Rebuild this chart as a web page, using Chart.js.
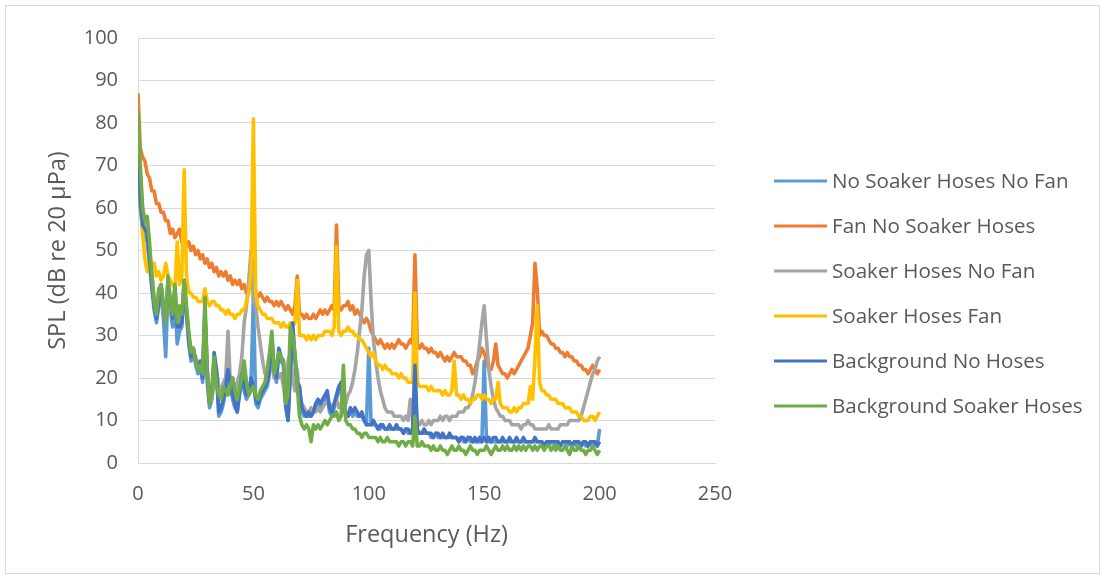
<!DOCTYPE html>
<html lang="en">
<head>
  <meta charset="UTF-8">
  <title>SPL spectra</title>
  <script src="https://cdn.jsdelivr.net/npm/chart.js"></script>
  <style>
    body { margin: 0; background: #fff; }
    .frame { position: absolute; left: 5px; top: 5px; width: 1093px; height: 567px; border: 1px solid #d9d9d9; }
    canvas { display: block; }
  </style>
</head>
<body>
  <div class="frame"><canvas id="spl" width="1093" height="567"></canvas></div>

  <script>
    // 1 Hz bins, 0..200 Hz
    const freqHz = Array.from({ length: 201 }, (_, i) => i);

    const xTicks = [0, 50, 100, 150, 200, 250];
    const yTicks = [0, 10, 20, 30, 40, 50, 60, 70, 80, 90, 100];

    const seriesNames = [
      'No Soaker Hoses No Fan',
      'Fan No Soaker Hoses',
      'Soaker Hoses No Fan',
      'Soaker Hoses Fan',
      'Background No Hoses',
      'Background Soaker Hoses'
    ];

    const noHosesNoFan = [
      75, 60, 55, 54, 52, 47, 41, 36, 33, 37,
      40, 34, 25, 41, 36, 32, 38, 28, 31, 32,
      41, 35, 28, 24, 26, 23, 21, 23, 19, 34,
      19, 13, 15, 24, 21, 11, 12, 14, 17, 21,
      18, 15, 13, 12, 16, 20, 17, 15, 16, 19,
      39, 14, 13, 15, 16, 17, 18, 21, 28, 21,
      19, 26, 24, 23, 13, 10, 21, 31, 24, 18,
      17, 12, 11, 11, 11, 11, 12, 13, 14, 13,
      14, 15, 16, 12, 11, 13, 15, 17, 18, 13,
      11, 11, 12, 11, 12, 11, 11, 11, 10, 9,
      27, 9, 9, 9, 8, 8, 9, 8, 8, 8,
      8, 8, 8, 8, 8, 7, 8, 7, 7, 8,
      21, 7, 7, 7, 7, 7, 7, 6, 6, 7,
      6, 6, 6, 6, 6, 6, 6, 6, 6, 5,
      6, 5, 5, 6, 5, 5, 5, 5, 5, 5,
      24, 5, 5, 5, 5, 5, 5, 5, 5, 5,
      5, 5, 5, 5, 5, 5, 5, 5, 5, 5,
      5, 5, 5, 5, 5, 5, 4, 5, 4, 5,
      5, 4, 5, 4, 5, 5, 4, 5, 4, 5,
      4, 5, 4, 5, 4, 4, 5, 4, 5, 4,
      8
    ];

    const fanNoHoses = [
      87, 74, 72, 71, 68, 67, 64, 64, 61, 61,
      59, 59, 57, 57, 54, 55, 53, 54, 55, 52,
      53, 51, 52, 50, 51, 49, 50, 48, 49, 47,
      48, 46, 47, 45, 46, 44, 45, 44, 45, 43,
      44, 42, 43, 42, 43, 41, 42, 40, 41, 42,
      48, 40, 39, 40, 39, 38, 39, 38, 38, 37,
      38, 37, 38, 37, 36, 37, 36, 35, 37, 44,
      35, 35, 34, 35, 34, 34, 35, 34, 35, 36,
      35, 36, 35, 36, 37, 36, 56, 37, 36, 37,
      37, 38, 36, 37, 35, 36, 35, 34, 33, 34,
      33, 31, 30, 29, 28, 29, 28, 27, 28, 27,
      28, 27, 28, 29, 28, 28, 27, 28, 29, 28,
      49, 28, 27, 28, 27, 27, 26, 27, 26, 26,
      25, 26, 25, 24, 25, 24, 25, 26, 25, 25,
      25, 24, 24, 23, 23, 21, 22, 24, 25, 27,
      26, 24, 22, 22, 24, 28, 23, 22, 21, 21,
      20, 21, 22, 21, 22, 23, 24, 25, 26, 27,
      30, 33, 47, 41, 30, 31, 30, 30, 29, 28,
      28, 27, 27, 26, 26, 25, 26, 25, 25, 24,
      24, 23, 23, 22, 22, 21, 22, 23, 22, 21,
      22
    ];

    const hosesNoFan = [
      80, 68, 60, 56, 55, 50, 45, 39, 37, 39,
      40, 36, 33, 40, 36, 34, 38, 33, 32, 35,
      40, 35, 30, 27, 26, 25, 23, 23, 22, 35,
      22, 16, 15, 19, 22, 18, 17, 19, 20, 31,
      19, 20, 17, 19, 21, 25, 33, 37, 43, 50,
      38, 37, 32, 28, 24, 21, 20, 22, 24, 20,
      22, 20, 21, 18, 14, 24, 26, 20, 17, 22,
      15, 14, 13, 12, 12, 13, 12, 12, 13, 12,
      13, 14, 14, 14, 13, 14, 15, 13, 14, 14,
      14, 16, 17, 19, 22, 26, 31, 36, 44, 49,
      50, 38, 29, 24, 20, 17, 15, 13, 12, 12,
      12, 11, 11, 11, 11, 10, 11, 10, 15, 10,
      10, 10, 9, 10, 9, 9, 10, 9, 10, 10,
      10, 11, 10, 11, 11, 10, 11, 11, 11, 12,
      12, 12, 13, 13, 14, 16, 19, 23, 28, 33,
      37, 29, 22, 18, 15, 13, 12, 11, 11, 10,
      10, 10, 9, 9, 9, 9, 8, 9, 9, 10,
      9, 9, 8, 8, 8, 8, 8, 8, 9, 8,
      8, 8, 8, 9, 9, 9, 9, 10, 10, 10,
      10, 10, 11, 13, 15, 17, 19, 21, 22, 24,
      25
    ];

    const hosesFan = [
      70, 62, 54, 48, 45, 48, 46, 47, 44, 45,
      43, 44, 47, 44, 43, 42, 41, 52, 42, 44,
      69, 44, 40, 40, 39, 39, 38, 38, 38, 41,
      38, 37, 38, 38, 37, 37, 36, 36, 35, 36,
      35, 35, 34, 35, 35, 36, 36, 38, 40, 45,
      81, 40, 37, 36, 35, 35, 34, 34, 34, 33,
      33, 33, 32, 33, 32, 32, 33, 32, 33, 43,
      30, 30, 30, 29, 30, 29, 30, 29, 30, 30,
      30, 31, 31, 31, 30, 32, 51, 31, 30, 31,
      31, 32, 31, 31, 30, 30, 29, 29, 28, 27,
      26, 25, 26, 24, 23, 23, 22, 23, 22, 22,
      21, 21, 21, 20, 21, 20, 20, 19, 19, 19,
      40, 19, 18, 18, 18, 18, 17, 18, 17, 17,
      17, 17, 16, 17, 16, 16, 17, 24, 16, 16,
      15, 16, 15, 15, 14, 15, 15, 16, 16, 15,
      16, 15, 15, 14, 15, 15, 19, 14, 13, 13,
      13, 12, 12, 13, 12, 13, 13, 14, 14, 14,
      18, 15, 25, 37, 19, 17, 17, 16, 16, 15,
      15, 15, 14, 14, 14, 13, 13, 13, 12, 12,
      12, 11, 11, 10, 10, 10, 11, 11, 10, 11,
      12
    ];

    const backgroundNoHoses = [
      77, 62, 56, 55, 54, 48, 42, 37, 34, 38,
      42, 37, 33, 43, 38, 34, 41, 32, 32, 33,
      43, 36, 29, 25, 27, 24, 22, 24, 20, 36,
      21, 14, 17, 26, 22, 12, 13, 15, 18, 22,
      19, 16, 14, 12, 17, 21, 18, 16, 17, 20,
      18, 15, 14, 16, 17, 18, 19, 22, 30, 22,
      20, 27, 25, 24, 14, 10, 22, 33, 25, 19,
      18, 13, 12, 11, 12, 11, 12, 14, 15, 14,
      15, 16, 17, 13, 12, 14, 16, 18, 19, 14,
      12, 11, 13, 12, 13, 12, 11, 12, 10, 9,
      9, 9, 10, 9, 8, 9, 9, 8, 8, 9,
      8, 8, 9, 8, 8, 7, 8, 8, 7, 8,
      23, 8, 7, 7, 8, 7, 7, 7, 6, 7,
      7, 6, 7, 6, 6, 7, 6, 6, 6, 5,
      6, 6, 5, 6, 6, 5, 6, 5, 6, 5,
      6, 5, 6, 5, 6, 6, 5, 5, 6, 5,
      5, 6, 5, 5, 6, 5, 5, 6, 5, 5,
      5, 5, 6, 5, 5, 5, 4, 5, 5, 5,
      5, 5, 5, 4, 5, 5, 5, 5, 4, 5,
      5, 5, 4, 5, 5, 4, 5, 5, 5, 4,
      5
    ];

    const backgroundHoses = [
      83, 70, 60, 57, 58, 52, 44, 38, 35, 41,
      42, 37, 33, 44, 38, 35, 42, 33, 37, 35,
      43, 37, 31, 26, 27, 24, 22, 23, 21, 39,
      22, 14, 16, 25, 18, 16, 15, 18, 17, 16,
      18, 20, 17, 15, 18, 20, 24, 19, 16, 17,
      18, 16, 15, 17, 18, 19, 22, 26, 31, 21,
      23, 26, 25, 24, 14, 16, 32, 30, 26, 18,
      11, 9, 8, 9, 8, 5, 9, 8, 9, 8,
      9, 10, 9, 10, 11, 11, 12, 10, 11, 23,
      10, 9, 9, 8, 8, 7, 7, 6, 7, 7,
      6, 6, 6, 6, 5, 6, 5, 5, 6, 5,
      5, 5, 5, 4, 5, 5, 4, 5, 5, 4,
      11, 4, 4, 5, 4, 4, 4, 3, 4, 3,
      3, 4, 3, 3, 2, 3, 4, 3, 3, 4,
      3, 3, 2, 3, 4, 3, 3, 2, 3, 3,
      3, 4, 3, 2, 3, 4, 3, 3, 4, 3,
      4, 3, 3, 4, 3, 4, 3, 4, 3, 4,
      4, 3, 4, 3, 4, 4, 3, 4, 4, 3,
      4, 3, 4, 3, 3, 4, 3, 2, 4, 3,
      3, 4, 3, 3, 2, 3, 3, 4, 3, 2,
      3
    ];

    const seriesValues = [noHosesNoFan, fanNoHoses, hosesNoFan, hosesFan, backgroundNoHoses, backgroundHoses];
    const seriesColors = ['#5B9BD5', '#ED7D31', '#A5A5A5', '#FFC000', '#4472C4', '#70AD47'];

    const FONT = '"Open Sans", "Noto Sans", sans-serif';
    const TEXT = '#595959';
    const GRID = '#d9d9d9';

    // legend drawn on the right, one line sample per series
    const sideLegend = {
      id: 'sideLegend',
      afterDraw(chart) {
        const ctx = chart.ctx;
        ctx.save();
        ctx.font = '20.6px ' + FONT;
        ctx.textBaseline = 'middle';
        chart.data.datasets.forEach((ds, i) => {
          const y = 175 + i * 45;
          ctx.strokeStyle = ds.borderColor;
          ctx.lineWidth = 3;
          ctx.beginPath();
          ctx.moveTo(768, y);
          ctx.lineTo(821, y);
          ctx.stroke();
          ctx.fillStyle = TEXT;
          ctx.fillText(ds.label, 826, y + 1);
        });
        ctx.restore();
      }
    };

    const datasets = seriesNames.map((name, i) => ({
      label: name,
      data: freqHz.map((f, k) => ({ x: f, y: seriesValues[i][k] })),
      borderColor: seriesColors[i],
      backgroundColor: seriesColors[i],
      borderWidth: 3.6,
      pointRadius: 0,
      tension: 0,
      borderJoinStyle: 'round',
      order: seriesNames.length - i   // later series on top
    }));

    new Chart(document.getElementById('spl'), {
      type: 'line',
      data: { datasets: datasets },
      plugins: [sideLegend],
      options: {
        responsive: false,
        animation: false,
        layout: { padding: { top: 22, right: 384, bottom: 0, left: 0 } },
        plugins: { legend: { display: false }, tooltip: { enabled: false } },
        scales: {
          x: {
            type: 'linear', min: 0, max: 250,
            afterBuildTicks: s => { s.ticks = xTicks.map(v => ({ value: v })); },
            ticks: { color: TEXT, font: { family: FONT, size: 20 }, padding: 19, maxRotation: 0 },
            grid: { display: false, drawTicks: false },
            border: { display: true, color: GRID },
            title: { display: true, text: 'Frequency (Hz)', color: TEXT, font: { family: FONT, size: 23.5 }, padding: { top: 0, bottom: 24 } },
            afterFit: s => { s.height = 110; }
          },
          y: {
            min: 0, max: 100,
            afterBuildTicks: s => { s.ticks = yTicks.map(v => ({ value: v })); },
            ticks: { color: TEXT, font: { family: FONT, size: 20 }, padding: 20 },
            grid: { color: GRID, drawTicks: false },
            border: { display: true, color: GRID },
            title: { display: true, text: 'SPL (dB re 20 µPa)', color: TEXT, font: { family: FONT, size: 23.5 }, padding: { top: 38, bottom: 0 } },
            afterFit: s => { s.width = 132; }
          }
        }
      }
    });
  </script>
</body>
</html>
